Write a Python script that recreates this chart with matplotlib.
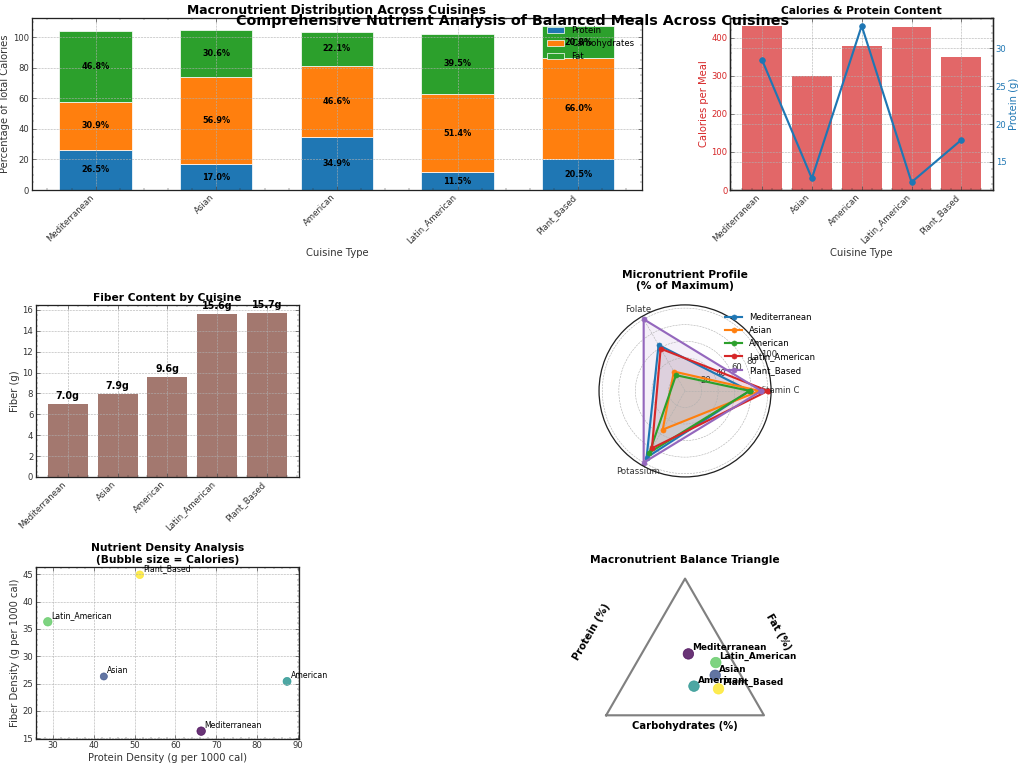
import numpy as np
import matplotlib.pyplot as plt

plt.rcParams.update({
    "font.size": 12,
    "axes.labelsize": 14,
    "axes.grid": True,
    "grid.linestyle": "--",
    "grid.linewidth": 0.8,
    "grid.color": "#b0b0b0",
    "xtick.direction": "in",
    "ytick.direction": "in",
    "xtick.top": True,
    "ytick.right": True,
    "xtick.minor.visible": True,
    "ytick.minor.visible": True,
    "xtick.major.size": 6,
    "ytick.major.size": 6,
    "xtick.minor.size": 3,
    "ytick.minor.size": 3,
    "axes.linewidth": 1.8,
    "axes.edgecolor": "#222222",
    "xtick.color": "#333333",
    "ytick.color": "#333333",
    "axes.labelcolor": "#333333",
})

cuisines = ["Mediterranean", "Asian", "American", "Latin_American", "Plant_Based"]
protein_pct = [26.5, 17.0, 34.9, 11.5, 20.5]
carb_pct = [30.9, 56.9, 46.6, 51.4, 66.0]
fat_pct = [46.8, 30.6, 22.1, 39.5, 20.8]
calories = [430, 300, 378, 428, 348]
protein_g = [28.5, 12.8, 33.0, 12.3, 17.9]
fiber_g = [7.0, 7.9, 9.6, 15.6, 15.7]
protein_density = [66.3, 42.5, 87.3, 28.8, 51.3]
fiber_density = [16.3, 26.3, 25.4, 36.3, 44.9]

micro_names = ["Vitamin C", "Folate", "Potassium"]
micro_pct = {
    "Mediterranean": [78, 64, 93],
    "Asian": [90, 27, 54],
    "American": [78, 22, 86],
    "Latin_American": [100, 59, 80],
    "Plant_Based": [92, 100, 100],
}

fig = plt.figure(figsize=(20, 15), dpi=51.2)
x = np.arange(len(cuisines))

# axes boxes (figure fractions)
row_h = 0.224
ax1 = fig.add_axes([0.031, 0.7526, 0.596, row_h])
ax2 = fig.add_axes([0.713, 0.7526, 0.257, row_h])
ax3 = fig.add_axes([0.035, 0.379, 0.257, row_h])
ax4 = fig.add_axes([0.368, 0.379, 0.602, row_h], projection="polar")
ax5 = fig.add_axes([0.035, 0.0378, 0.257, row_h])
ax6 = fig.add_axes([0.368, 0.0378, 0.602, row_h])

# stacked macronutrients
ax1.bar(x, protein_pct, 0.6, label="Protein", color="#1f77b4", edgecolor="white", linewidth=1)
ax1.bar(x, carb_pct, 0.6, bottom=protein_pct, label="Carbohydrates", color="#ff7f0e",
        edgecolor="white", linewidth=1)
bottom2 = np.array(protein_pct) + np.array(carb_pct)
ax1.bar(x, fat_pct, 0.6, bottom=bottom2, label="Fat", color="#2ca02c", edgecolor="white", linewidth=1)
for i in range(len(cuisines)):
    ax1.text(i, protein_pct[i] / 2, f"{protein_pct[i]:.1f}%", ha="center", va="center",
             fontweight="bold", fontsize=11.5)
    ax1.text(i, protein_pct[i] + carb_pct[i] / 2, f"{carb_pct[i]:.1f}%", ha="center", va="center",
             fontweight="bold", fontsize=11.5)
    ax1.text(i, bottom2[i] + fat_pct[i] / 2, f"{fat_pct[i]:.1f}%", ha="center", va="center",
             fontweight="bold", fontsize=11.5)
ax1.set_xticks(x)
ax1.set_xticklabels(cuisines, rotation=45, ha="right")
ax1.set_xlabel("Cuisine Type")
ax1.set_ylabel("Percentage of Total Calories")
ax1.set_title("Macronutrient Distribution Across Cuisines", fontweight="bold", fontsize=17.4)
ax1.legend(loc="upper right", frameon=False, fontsize=12)

# calories & protein
ax2.bar(x, calories, 0.8, color="tab:red", alpha=0.7)
ax2.set_ylabel("Calories per Meal", color="tab:red")
ax2.tick_params(axis="y", labelcolor="tab:red")
ax2.set_xticks(x)
ax2.set_xticklabels(cuisines, rotation=45, ha="right")
ax2.set_xlabel("Cuisine Type")
ax2b = ax2.twinx()
ax2b.plot(x, protein_g, color="tab:blue", marker="o", linewidth=3, markersize=8)
ax2b.set_ylabel("Protein (g)", color="tab:blue")
ax2b.tick_params(axis="y", labelcolor="tab:blue")
ax2.set_title("Calories & Protein Content", fontweight="bold", fontsize=15)

# fiber
ax3.bar(x, fiber_g, 0.8, color="tab:brown", alpha=0.8)
for i, v in enumerate(fiber_g):
    ax3.text(i, v + 0.3, f"{v:.1f}g", ha="center", va="bottom", fontweight="bold", fontsize=13.5)
ax3.set_xticks(x)
ax3.set_xticklabels(cuisines, rotation=45, ha="right")
ax3.set_ylabel("Fiber (g)")
ax3.set_title("Fiber Content by Cuisine", fontweight="bold", fontsize=15)

# radar
angles = np.linspace(0, 2 * np.pi, len(micro_names), endpoint=False).tolist()
angles += angles[:1]
for name in cuisines:
    vals = micro_pct[name] + micro_pct[name][:1]
    ax4.plot(angles, vals, marker="o", linewidth=3, markersize=7, label=name)
    ax4.fill(angles, vals, alpha=0.1)
ax4.set_xticks(angles[:-1])
ax4.set_xticklabels(micro_names)
ax4.set_yticks([20, 40, 60, 80, 100])
ax4.grid(True, linestyle="--", linewidth=0.8)
ax4.set_title("Micronutrient Profile\n(% of Maximum)", fontweight="bold", fontsize=15, pad=22)
ax4.legend(loc="upper right", bbox_to_anchor=(1.3, 1.0), frameon=False)

# bubble scatter
colors = plt.cm.viridis(np.linspace(0, 1, len(cuisines)))
ax5.scatter(protein_density, fiber_density, s=np.array(calories) / 3, c=colors, alpha=0.8)
for i, name in enumerate(cuisines):
    ax5.annotate(name, (protein_density[i], fiber_density[i]), xytext=(5, 5),
                 textcoords="offset points", fontsize=11)
ax5.set_xlabel("Protein Density (g per 1000 cal)")
ax5.set_ylabel("Fiber Density (g per 1000 cal)")
ax5.set_title("Nutrient Density Analysis\n(Bubble size = Calories)", fontweight="bold", fontsize=15)

# ternary
h = np.sqrt(3) / 2
ax6.plot([0, 1, 0.5, 0], [0, 0, h, 0], color="gray", linewidth=3)
tot = np.array(protein_pct) + np.array(carb_pct) + np.array(fat_pct)
c_n = np.array(carb_pct) / tot
f_n = np.array(fat_pct) / tot
tx = c_n + f_n / 2
ty = f_n * h
ax6.scatter(tx, ty, s=220, c=colors, alpha=0.8)
for i, name in enumerate(cuisines):
    ax6.annotate(name, (tx[i], ty[i]), xytext=(5, 5), textcoords="offset points",
                 fontsize=12.5, fontweight="bold")
ax6.text(0.5, -0.065, "Carbohydrates (%)", ha="center", va="center", fontweight="bold", fontsize=14)
ax6.text(-0.09, 0.53, "Protein (%)", ha="center", va="center", rotation=60, fontweight="bold",
         fontsize=14)
ax6.text(1.09, 0.53, "Fat (%)", ha="center", va="center", rotation=-60, fontweight="bold",
         fontsize=14)
ax6.set_xlim(-0.1, 1.1)
ax6.set_ylim(-0.15, 0.94)
ax6.set_aspect("equal")
ax6.axis("off")
ax6.set_title("Macronutrient Balance Triangle", fontweight="bold", fontsize=15)

fig.suptitle("Comprehensive Nutrient Analysis of Balanced Meals Across Cuisines",
             fontsize=20, fontweight="bold", y=0.982)
plt.savefig("out.png", dpi=51.2)
